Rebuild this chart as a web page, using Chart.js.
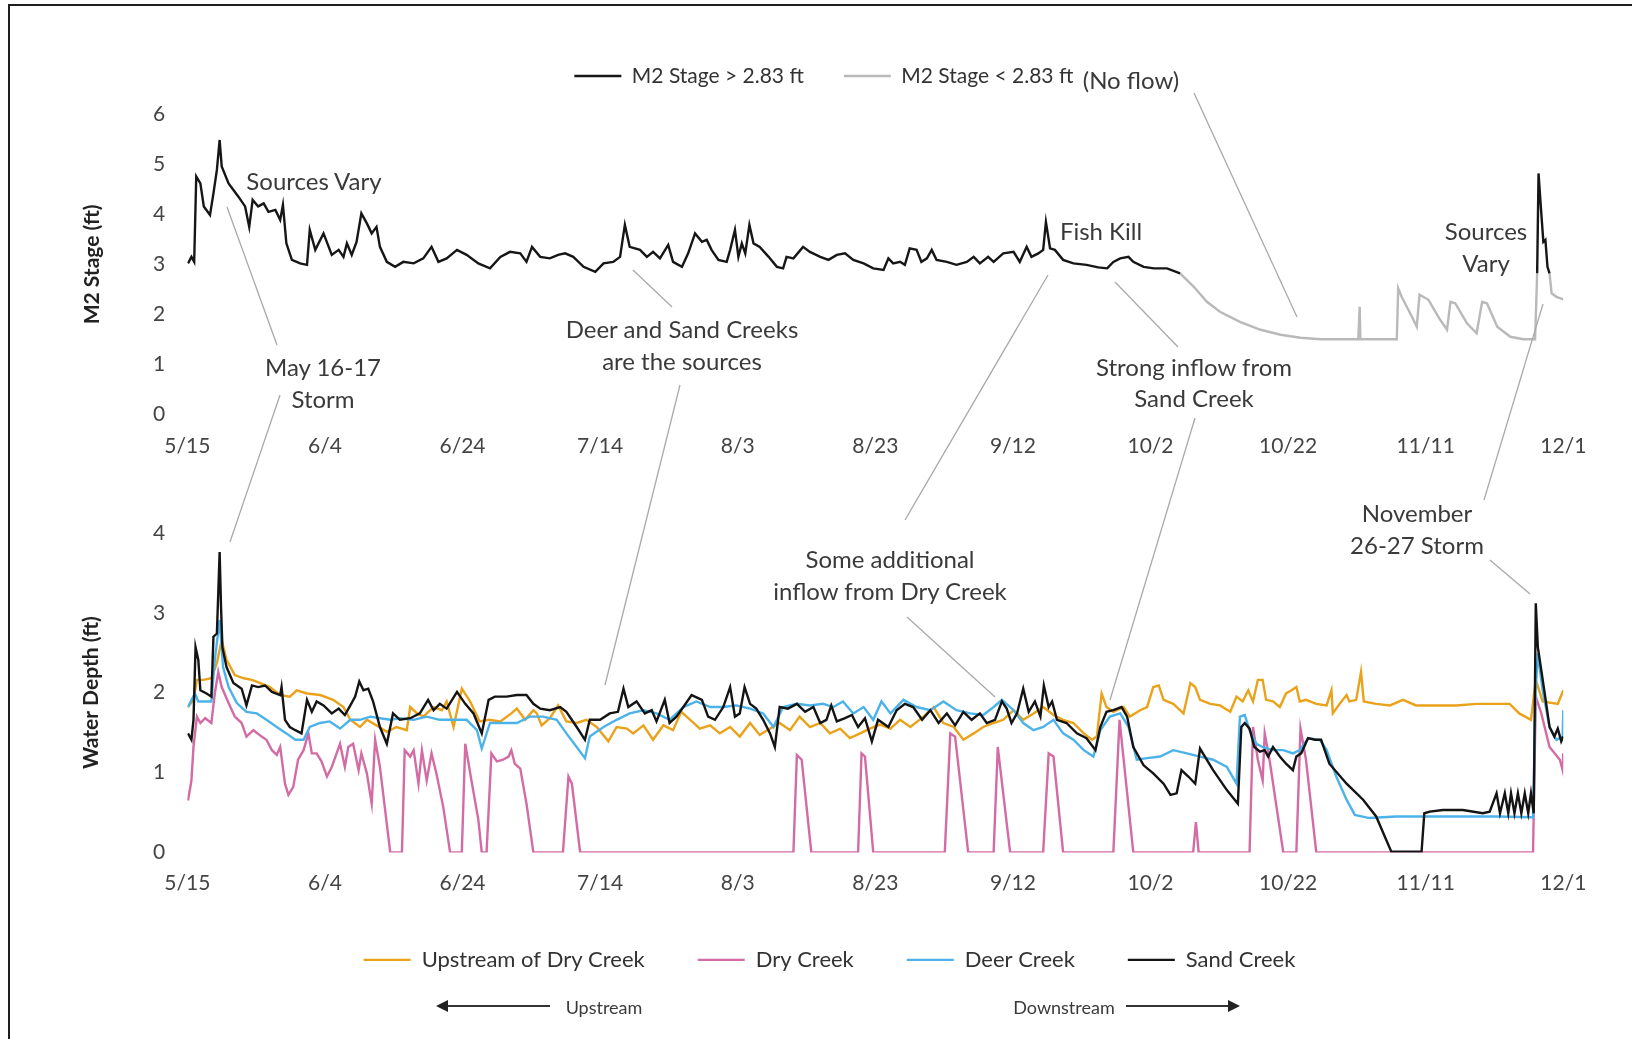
<!DOCTYPE html>
<html>
<head>
<meta charset="utf-8">
<title>M2 stage and creek water depth</title>
<script src="https://cdn.jsdelivr.net/npm/chart.js@4.4.1/dist/chart.umd.min.js"></script>
<style>
    html, body { margin: 0; padding: 0; background: #fff; overflow: hidden; }
    #page { position: relative; width: 1632px; height: 1039px; font-family: Lato, "Open Sans", sans-serif; color: #3a3a3a; overflow: hidden; }
    #frame { position: absolute; left: 8px; top: 4px; width: 1700px; height: 1100px; border-left: 2px solid #1e1e1e; border-top: 2px solid #1e1e1e; }
    .chart-box { position: absolute; left: 0; width: 1632px; }
    #top-box { top: 0; height: 470px; }
    #bottom-box { top: 470px; height: 569px; }
    #overlay { position: absolute; left: 0; top: 0; pointer-events: none; }
    .note { position: absolute; transform: translate(-50%, -50%); white-space: nowrap; font-size: 24px; line-height: 1; }
    .note.small { font-size: 18px; }
</style>
</head>
<body>
<div id="page">
    <div id="frame"></div>
    <div class="chart-box" id="top-box"><canvas id="top-chart"></canvas></div>
    <div class="chart-box" id="bottom-box"><canvas id="bottom-chart"></canvas></div>
    <svg id="overlay" width="1632" height="1039"></svg>
</div>
<script>
const byId = id => document.getElementById(id);

// x is days since 5/15
const dateLabels = ["5/15", "6/4", "6/24", "7/14", "8/3", "8/23", "9/12", "10/2", "10/22", "11/11", "12/1"];

// M2 stage (ft), [day, value]
const m2Above = [[0.1,3.02],[0.6,3.15],[1.0,3.05],[1.3,4.76],[1.9,4.62],[2.4,4.16],[3.3,3.99],[3.8,4.42],[4.3,4.89],[4.7,5.49],[5.0,4.96],[6.0,4.62],[7.4,4.36],[8.4,4.16],[9.0,3.75],[9.5,4.29],[10.3,4.16],[11.1,4.22],[11.8,4.05],[12.8,4.09],[13.5,3.89],[13.9,4.19],[14.4,3.42],[15.2,3.09],[16.4,3.02],[17.4,2.99],[17.8,3.69],[18.6,3.29],[19.8,3.62],[21.0,3.19],[22.0,3.29],[22.7,3.15],[23.2,3.42],[23.9,3.19],[24.6,3.45],[25.3,4.02],[26.1,3.82],[26.8,3.62],[27.5,3.75],[28.0,3.35],[29.0,3.05],[30.2,2.95],[31.4,3.05],[32.9,3.02],[34.3,3.12],[35.5,3.35],[36.5,3.05],[37.7,3.12],[39.2,3.29],[40.6,3.19],[42.3,3.02],[44.0,2.92],[45.5,3.15],[46.9,3.25],[48.4,3.22],[49.3,3.05],[50.1,3.35],[51.3,3.15],[52.7,3.12],[53.9,3.19],[54.9,3.22],[56.1,3.15],[57.6,2.95],[59.3,2.85],[60.5,3.02],[61.9,3.05],[62.9,3.15],[63.6,3.79],[64.3,3.35],[65.8,3.29],[66.8,3.15],[67.7,3.25],[68.7,3.12],[69.9,3.39],[70.6,3.05],[71.9,2.95],[72.8,3.22],[73.8,3.62],[74.8,3.45],[75.5,3.49],[76.2,3.29],[77.2,3.09],[78.4,3.05],[78.9,3.29],[79.6,3.69],[80.1,3.15],[80.6,3.42],[81.1,3.22],[81.7,3.79],[82.3,3.42],[83.2,3.35],[84.5,3.15],[85.7,2.95],[86.6,2.92],[87.1,3.15],[88.1,3.12],[89.5,3.35],[90.5,3.25],[92.0,3.15],[93.2,3.09],[94.4,3.19],[95.6,3.22],[96.8,3.09],[98.3,3.02],[99.7,2.92],[101.2,2.89],[101.9,3.12],[102.6,3.02],[103.6,3.05],[104.3,2.99],[105.0,3.32],[106.0,3.29],[106.7,3.05],[107.5,3.12],[108.2,3.29],[108.9,3.09],[110.4,3.05],[111.8,2.99],[113.3,3.05],[114.3,3.15],[115.2,3.02],[116.4,3.15],[117.2,3.05],[118.6,3.22],[120.1,3.25],[121.0,3.05],[122.0,3.35],[122.7,3.15],[123.7,3.22],[124.4,3.29],[124.8,3.85],[125.4,3.32],[126.1,3.29],[127.3,3.09],[128.8,3.02],[130.7,2.99],[132.4,2.94],[133.7,2.92],[134.6,3.05],[135.6,3.12],[136.8,3.15],[137.5,3.05],[139.0,2.95],[140.5,2.92],[142.4,2.92],[144.3,2.82],[170,null],[196.2,2.82],[196.4,4.82],[196.7,4.22],[197.1,3.45],[197.4,3.49],[197.7,2.95],[198.0,2.82]];
const m2Below = [[144.3,2.82],[146.3,2.55],[148.2,2.25],[150.1,2.05],[153.0,1.85],[156.0,1.69],[158.9,1.59],[161.8,1.53],[164.7,1.50],[170.2,1.50],[170.4,2.15],[170.5,1.50],[175.8,1.50],[176.0,2.52],[176.5,2.35],[178.0,1.95],[178.7,1.75],[179.1,2.39],[180.4,2.29],[182.1,1.89],[183.1,1.69],[183.6,2.25],[184.3,2.22],[186.0,1.82],[187.4,1.62],[188.2,2.25],[188.9,2.22],[190.4,1.75],[192.3,1.55],[194.2,1.50],[195.9,1.50],[196.2,2.82],[197,null],[198.0,2.82],[198.3,2.42],[199.0,2.35],[200,2.30]];

// water depth (ft), [day, value]
const upstreamDry = [[0.1,1.82],[0.9,1.91],[1.4,2.16],[2.3,2.16],[3.5,2.18],[4.3,2.37],[5.0,2.66],[5.7,2.41],[6.9,2.22],[8.2,2.18],[9.4,2.16],[10.6,2.12],[12.0,2.07],[13.5,1.97],[14.9,1.95],[15.9,2.03],[17.4,1.99],[19.3,1.97],[21.2,1.91],[22.7,1.82],[23.7,1.66],[25.1,1.57],[26.1,1.66],[27.5,1.59],[29.0,1.51],[30.4,1.57],[31.9,1.53],[32.4,1.82],[33.4,1.74],[34.3,1.70],[35.8,1.82],[37.0,1.78],[37.7,1.89],[38.7,1.57],[39.9,2.05],[41.1,1.89],[42.5,1.64],[43.8,1.66],[45.5,1.64],[47.1,1.74],[47.9,1.80],[49.1,1.66],[50.3,1.78],[50.8,1.74],[51.5,1.59],[52.7,1.68],[53.9,1.84],[55.1,1.64],[56.6,1.62],[58.0,1.66],[59.5,1.57],[61.2,1.39],[62.4,1.57],[63.9,1.55],[64.8,1.49],[66.3,1.59],[67.7,1.41],[69.2,1.59],[70.6,1.53],[71.8,1.76],[73.1,1.66],[74.5,1.55],[76.0,1.59],[77.4,1.49],[78.9,1.57],[80.3,1.45],[81.8,1.62],[83.2,1.47],[84.7,1.55],[86.1,1.62],[87.6,1.53],[89.0,1.70],[90.5,1.57],[92.0,1.62],[93.4,1.49],[94.9,1.55],[96.3,1.43],[97.8,1.49],[99.2,1.55],[100.7,1.60],[102.2,1.55],[103.6,1.66],[105.1,1.57],[107.0,1.70],[108.5,1.82],[109.9,1.62],[111.4,1.57],[112.8,1.41],[114.3,1.49],[115.7,1.57],[117.2,1.62],[118.6,1.66],[120.1,1.78],[121.5,1.66],[123.0,1.74],[124.4,1.82],[125.9,1.72],[127.3,1.66],[128.8,1.62],[130.3,1.49],[131.5,1.41],[132.2,1.45],[132.9,1.99],[133.6,1.82],[134.6,1.76],[136.1,1.82],[137.0,1.70],[138.5,1.78],[139.5,1.82],[140.4,2.07],[141.2,2.09],[141.9,1.91],[143.3,1.86],[144.8,1.74],[145.8,2.12],[146.5,2.07],[147.2,1.91],[148.7,1.86],[150.1,1.84],[151.6,1.76],[152.5,1.95],[153.4,1.89],[154.2,2.03],[154.9,1.89],[155.6,2.16],[156.3,2.16],[156.8,1.91],[157.8,1.89],[158.8,1.82],[159.7,1.99],[160.5,2.03],[161.2,2.07],[161.7,1.89],[162.6,1.91],[164.1,1.86],[165.6,1.84],[166.3,2.03],[166.5,1.74],[167.5,1.86],[168.5,1.97],[168.9,1.89],[169.9,1.91],[170.6,2.26],[171.0,1.89],[172.8,1.86],[174.8,1.84],[176.7,1.91],[178.6,1.84],[181.5,1.84],[184.4,1.84],[187.4,1.86],[190.3,1.86],[192.2,1.86],[193.6,1.74],[195.3,1.66],[196.0,2.16],[197.0,1.89],[199.2,1.86],[200,2.03]];
const dryCreek = [[0.1,0.65],[0.6,0.90],[0.9,1.32],[1.4,1.70],[1.9,1.62],[2.6,1.68],[3.5,1.62],[4.0,1.99],[4.5,2.26],[5.0,2.07],[6.0,1.87],[6.9,1.70],[7.9,1.62],[8.6,1.45],[9.6,1.53],[10.8,1.45],[11.5,1.41],[12.3,1.28],[13.0,1.22],[13.5,1.32],[14.2,0.86],[14.7,0.72],[15.4,0.82],[16.1,1.16],[16.9,1.28],[17.6,1.49],[18.1,1.24],[18.8,1.24],[19.5,1.14],[20.3,0.95],[21.0,1.07],[21.7,1.24],[22.2,1.36],[22.9,1.07],[23.4,1.32],[24.1,1.36],[24.9,1.03],[25.3,1.24],[26.1,0.99],[26.8,0.61],[27.3,1.41],[28.0,1.07],[28.7,0.57],[29.5,0],[31.2,0],[31.6,1.28],[32.4,1.20],[32.9,1.28],[33.6,0.86],[34.1,1.28],[34.8,0.90],[35.5,1.24],[36.2,0.99],[37.2,0.57],[38.2,0],[39.9,0],[40.4,1.36],[41.3,0.90],[42.3,0.41],[42.8,0],[43.5,0],[44.2,1.24],[45.0,1.14],[45.9,1.16],[46.7,1.20],[47.1,1.28],[47.6,1.11],[48.4,1.05],[49.3,0.61],[50.3,0],[54.6,0],[55.4,0.95],[55.9,0.86],[57.1,0],[88.1,0],[88.6,1.22],[89.3,1.16],[90.7,0],[97.5,0],[98.0,1.24],[98.5,1.20],[99.7,0],[110.1,0],[110.9,1.49],[111.6,1.45],[113.5,0],[117.2,0],[117.8,1.32],[119.6,0],[124.4,0],[125.2,1.24],[125.9,1.20],[127.3,0],[134.6,0],[135.5,1.66],[137.5,0],[146.2,0],[146.6,0.38],[147.0,0],[154.4,0],[154.9,1.57],[155.6,1.16],[156.3,0.90],[156.6,1.49],[157.3,1.16],[159.3,0],[161.2,0],[161.8,1.55],[162.6,1.16],[164.1,0],[195.6,0],[196.0,1.95],[196.8,1.74],[198.0,1.32],[199.5,1.16],[199.9,1.03],[200,1.24]];
const deerCreek = [[0.1,1.82],[1.1,1.99],[1.6,1.89],[3.5,1.89],[4.0,2.41],[4.7,2.91],[5.2,2.32],[6.0,2.07],[7.2,1.87],[8.6,1.76],[10.1,1.74],[11.5,1.66],[13.0,1.57],[14.4,1.49],[15.7,1.41],[16.9,1.41],[17.8,1.57],[19.3,1.62],[20.7,1.64],[22.2,1.55],[23.7,1.66],[25.1,1.66],[26.6,1.70],[28.0,1.68],[29.5,1.66],[30.9,1.68],[32.9,1.66],[34.8,1.70],[36.7,1.66],[38.7,1.66],[40.6,1.66],[42.1,1.53],[42.8,1.30],[44.0,1.62],[45.9,1.62],[47.9,1.62],[49.8,1.70],[51.7,1.70],[53.7,1.66],[55.1,1.49],[56.6,1.32],[57.8,1.18],[58.5,1.45],[60.5,1.57],[62.4,1.66],[64.3,1.74],[66.3,1.78],[68.2,1.74],[70.1,1.66],[72.1,1.82],[74.0,1.89],[76.0,1.82],[77.9,1.82],[79.8,1.84],[81.8,1.80],[83.7,1.74],[85.2,1.57],[86.6,1.82],[88.6,1.86],[90.5,1.84],[92.4,1.86],[93.9,1.82],[95.3,1.89],[96.8,1.74],[98.3,1.82],[99.7,1.66],[100.9,1.89],[102.2,1.74],[104.1,1.91],[106.0,1.82],[108.0,1.78],[109.9,1.89],[111.8,1.78],[113.8,1.74],[115.7,1.72],[117.2,1.82],[118.4,1.91],[120.1,1.78],[121.5,1.62],[123.0,1.53],[124.4,1.57],[125.9,1.66],[127.3,1.49],[128.8,1.41],[130.3,1.28],[131.7,1.20],[132.7,1.53],[134.1,1.70],[135.6,1.74],[136.8,1.57],[138.0,1.16],[139.5,1.18],[141.4,1.20],[143.3,1.28],[145.3,1.24],[147.2,1.20],[149.1,1.16],[151.1,1.07],[152.5,0.86],[153.0,1.70],[153.7,1.72],[154.4,1.53],[155.4,1.36],[156.3,1.32],[157.8,1.28],[159.3,1.28],[160.7,1.24],[161.7,1.28],[162.9,1.43],[164.6,1.41],[165.6,1.28],[167.0,0.95],[168.5,0.66],[169.7,0.47],[171.8,0.43],[175.7,0.45],[180.6,0.45],[185.4,0.45],[190.3,0.45],[195.6,0.44],[196.0,2.07],[196.3,2.49],[197.0,2.03],[198.0,1.57],[199.0,1.41],[199.9,1.45],[200,1.78]];
const sandCreek = [[0.1,1.49],[0.6,1.41],[0.9,1.66],[1.2,2.57],[1.6,2.41],[1.9,2.03],[2.8,1.99],[3.5,1.95],[3.8,2.70],[4.3,2.74],[4.7,3.76],[4.9,3.08],[5.1,2.57],[5.7,2.32],[6.7,2.12],[7.9,2.05],[8.6,1.84],[9.4,2.09],[10.3,2.07],[11.3,2.09],[12.3,2.01],[13.5,1.97],[13.7,2.07],[14.2,1.66],[14.9,1.57],[15.7,1.53],[16.6,1.49],[17.4,1.91],[18.1,1.76],[18.8,1.89],[19.8,1.84],[21.0,1.74],[22.0,1.80],[22.9,1.72],[23.7,1.84],[24.4,1.95],[25.0,2.14],[25.6,2.03],[26.3,2.05],[27.0,1.89],[28.0,1.57],[29.0,1.36],[29.9,1.74],[30.9,1.66],[32.4,1.68],[33.8,1.74],[35.0,1.91],[35.8,1.78],[36.7,1.86],[37.7,1.80],[39.2,2.01],[40.4,1.86],[41.6,1.74],[42.8,1.49],[43.8,1.91],[44.7,1.95],[46.4,1.95],[47.9,1.97],[49.3,1.97],[50.3,1.86],[51.3,1.80],[52.7,1.78],[54.2,1.82],[55.1,1.76],[56.6,1.57],[57.8,1.41],[58.5,1.66],[60.0,1.66],[61.4,1.74],[62.6,1.76],[63.4,2.05],[64.1,1.82],[65.3,1.89],[66.5,1.74],[67.5,1.78],[68.2,1.64],[69.4,1.91],[70.1,1.62],[71.1,1.70],[72.1,1.82],[73.3,1.97],[74.8,1.91],[75.7,1.70],[76.7,1.66],[77.9,1.82],[78.9,2.07],[79.6,1.70],[80.3,1.74],[81.0,2.07],[81.8,1.86],[82.7,1.80],[83.7,1.66],[84.7,1.49],[85.4,1.32],[86.1,1.82],[87.3,1.80],[88.6,1.86],[89.8,1.76],[91.0,1.82],[92.0,1.62],[92.9,1.66],[93.6,1.84],[94.4,1.64],[95.6,1.68],[96.6,1.72],[97.5,1.57],[98.5,1.68],[99.5,1.39],[100.4,1.66],[101.9,1.57],[103.1,1.78],[104.3,1.86],[105.5,1.82],[106.8,1.66],[108.0,1.78],[109.2,1.62],[110.4,1.74],[111.6,1.59],[112.8,1.76],[114.0,1.66],[115.2,1.74],[116.2,1.62],[117.4,1.66],[118.4,1.89],[119.1,1.80],[119.8,1.62],[120.6,1.74],[121.5,2.05],[122.3,1.76],[123.2,1.89],[124.0,1.70],[124.5,2.09],[125.2,1.82],[125.7,1.89],[126.4,1.66],[127.8,1.62],[129.3,1.49],[130.7,1.43],[132.0,1.28],[132.7,1.57],[133.6,1.76],[134.6,1.78],[135.8,1.82],[136.6,1.70],[137.5,1.32],[139.0,1.09],[140.4,0.99],[141.9,0.86],[142.9,0.72],[143.8,0.74],[144.5,1.03],[145.5,0.95],[146.5,0.86],[147.2,1.30],[149.1,1.03],[151.1,0.78],[152.7,0.61],[153.2,1.57],[153.7,1.62],[154.4,1.55],[155.1,1.32],[155.9,1.26],[156.6,1.28],[157.1,1.20],[157.8,1.32],[158.8,1.20],[159.7,1.11],[160.7,1.03],[161.2,1.20],[161.9,1.24],[162.9,1.43],[163.9,1.41],[164.8,1.41],[166.0,1.11],[168.5,0.86],[170.9,0.66],[172.8,0.45],[174.3,0.15],[175.0,0.01],[177.2,0.01],[179.4,0.01],[179.8,0.49],[180.6,0.51],[182.5,0.53],[185.4,0.53],[188.3,0.49],[189.3,0.51],[190.3,0.74],[190.8,0.49],[191.5,0.74],[192.0,0.49],[192.4,0.74],[192.9,0.49],[193.4,0.74],[193.9,0.49],[194.4,0.74],[194.9,0.49],[195.3,0.74],[195.7,0.49],[196.0,3.12],[196.3,2.57],[196.8,2.28],[197.3,1.99],[198.0,1.57],[198.7,1.45],[199.2,1.55],[199.7,1.39],[200,1.45]];

// callout text and leader lines (page pixels)
const notes = [
    ["Sources Vary", 314, 181], ["May 16-17", 323, 367], ["Storm", 323, 399],
    ["Deer and Sand Creeks", 682, 329], ["are the sources", 682, 361],
    ["Fish Kill", 1101, 231],
    ["Strong inflow from", 1194, 367], ["Sand Creek", 1194, 398],
    ["Some additional", 890, 559], ["inflow from Dry Creek", 890, 591],
    ["Sources", 1486, 231], ["Vary", 1486, 263],
    ["November", 1417, 513], ["26-27 Storm", 1417, 545],
    ["(No flow)", 1131, 80]
];
const leaders = [
    [227, 207, 277, 345], [280, 395, 230, 542],
    [633, 270, 672, 307], [680, 385, 605, 685],
    [1048, 275, 905, 520], [907, 617, 995, 697],
    [1115, 282, 1178, 347], [1195, 418, 1110, 700],
    [1194, 93, 1297, 317],
    [1543, 304, 1484, 500], [1490, 560, 1530, 594]
];

Chart.defaults.font.family = "Lato, 'Open Sans', sans-serif";
Chart.defaults.color = "#444";

const toXY = pairs => pairs.map(([x, y]) => ({x, y}));

function series(label, data, color, order) {
    return {label, data: toXY(data), borderColor: color, backgroundColor: color, borderWidth: 2.4, order};
}

function xAxis(pad, height) {
    return {
        type: "linear", min: 0, max: 200,
        grid: {display: false, drawTicks: false}, border: {display: false},
        ticks: {stepSize: 20, autoSkip: false, maxRotation: 0, padding: pad, font: {size: 21},
            callback: v => dateLabels[Math.round(v / 20)]},
        afterFit: axis => { axis.height = height; }
    };
}

function yAxis(max, title, titlePad, width) {
    return {
        min: 0, max,
        grid: {display: false, drawTicks: false}, border: {display: false},
        ticks: {stepSize: 1, padding: 22, font: {size: 21}},
        title: {display: true, text: title, color: "#222", font: {size: 21, weight: "bold"}, padding: {top: titlePad, bottom: 0}},
        afterFit: axis => { axis.width = width; }
    };
}

function legend(position, pad, size) {
    return {
        position,
        labels: {usePointStyle: true, pointStyle: "line", pointStyleWidth: 47, padding: pad, color: "#333", font: {size},
            sort: (a, b) => a.datasetIndex - b.datasetIndex}
    };
}

const baseOptions = {
    animation: false, responsive: true, maintainAspectRatio: false,
    elements: {point: {radius: 0}, line: {tension: 0}}
};

new Chart(byId("top-chart"), {
    type: "line",
    data: {datasets: [
        series("M2 Stage > 2.83 ft", m2Above, "#161616", 0),
        series("M2 Stage < 2.83 ft", m2Below, "#b9b9b9", 1)
    ]},
    options: {
        ...baseOptions,
        layout: {padding: {left: 84.3, right: 68.7, top: 25.5, bottom: 5.8}},
        plugins: {
            legend: legend("top", 40, 21),
            // empty spacer between legend and plot
            subtitle: {display: true, text: "", position: "top", weight: 500, font: {size: 1}, padding: {top: 16.8, bottom: 0}},
            tooltip: {enabled: false}
        },
        scales: {x: xAxis(19, 50), y: yAxis(6, "M2 Stage (ft)", -5, 103)}
    }
});

new Chart(byId("bottom-chart"), {
    type: "line",
    data: {datasets: [
        series("Upstream of Dry Creek", upstreamDry, "#eba21b", 2),
        series("Dry Creek", dryCreek, "#d36ba4", 3),
        series("Deer Creek", deerCreek, "#4cb3ea", 1),
        series("Sand Creek", sandCreek, "#141414", 0)
    ]},
    options: {
        ...baseOptions,
        layout: {padding: {left: 95.7, right: 68.7, top: 62.9, bottom: 58.1}},
        plugins: {legend: legend("bottom", 53, 22), tooltip: {enabled: false}},
        scales: {x: xAxis(18, 43.5), y: yAxis(4, "Water Depth (ft)", -16.7, 91.6)}
    }
});

// callouts
const page = byId("page");
notes.forEach(([text, x, y]) => {
    const div = document.createElement("div");
    div.className = "note";
    div.textContent = text;
    div.style.left = x + "px";
    div.style.top = y + "px";
    page.appendChild(div);
});

const svg = byId("overlay");
const ns = "http://www.w3.org/2000/svg";
function svgEl(tag, attrs) {
    const el = document.createElementNS(ns, tag);
    for (const k in attrs) el.setAttribute(k, attrs[k]);
    svg.appendChild(el);
    return el;
}
leaders.forEach(([x1, y1, x2, y2]) => {
    svgEl("line", {x1, y1, x2, y2, stroke: "#a9a9a9", "stroke-width": 1.3});
});

// upstream / downstream arrows
svgEl("line", {x1: 446, y1: 1006, x2: 550, y2: 1006, stroke: "#333", "stroke-width": 2});
svgEl("polygon", {points: "436,1006 448,1000 448,1012", fill: "#222"});
svgEl("line", {x1: 1126, y1: 1006, x2: 1230, y2: 1006, stroke: "#333", "stroke-width": 2});
svgEl("polygon", {points: "1240,1006 1228,1000 1228,1012", fill: "#222"});
[["Upstream", 604, 1007], ["Downstream", 1064, 1007]].forEach(([text, x, y]) => {
    const div = document.createElement("div");
    div.className = "note small";
    div.textContent = text;
    div.style.left = x + "px";
    div.style.top = y + "px";
    page.appendChild(div);
});
</script>
</body>
</html>
